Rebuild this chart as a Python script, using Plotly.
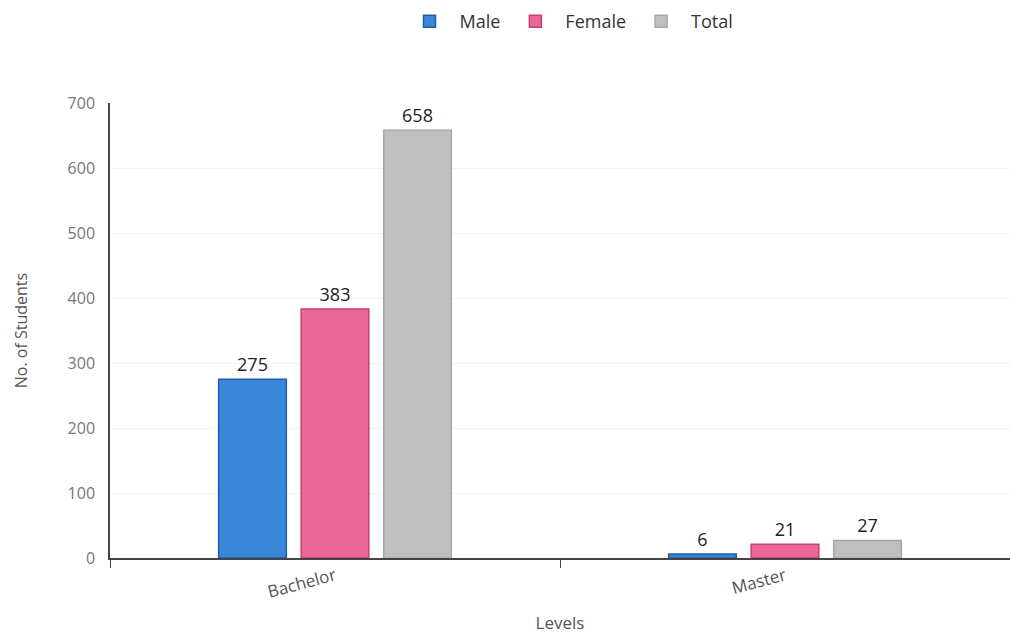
import plotly.graph_objects as go

levels = ["Bachelor", "Master"]
male = [275, 6]
female = [383, 21]
total = [658, 27]

series = [
    ("Male", male, "#3a86d8", "#1f5ea8"),
    ("Female", female, "#ea6797", "#c9406f"),
    ("Total", total, "#bfbfbf", "#a8a8a8"),
]

fig = go.Figure()
for name, vals, color, border in series:
    fig.add_trace(go.Bar(
        name=name, x=levels, y=vals,
        marker=dict(color=color, line=dict(color=border, width=1.5)),
        text=[str(v) for v in vals], textposition="outside",
        textfont=dict(size=18, color="#222222", family="Open Sans"),
        cliponaxis=False,
    ))

fig.update_layout(
    width=1010, height=634,
    margin=dict(l=110, r=0, t=103, b=76, autoexpand=False),
    paper_bgcolor="white", plot_bgcolor="white",
    font=dict(family="Open Sans", color="#555555"),
    barmode="group", bargap=0.45, bargroupgap=0.18,
    showlegend=True,
    legend=dict(orientation="h", x=0.51, xanchor="center", y=0.995, yanchor="top",
                yref="container", font=dict(size=18, color="#333333"),
                itemwidth=50, traceorder="normal"),
    xaxis=dict(
        title=dict(text="Levels", font=dict(size=17, color="#555555"), standoff=22),
        tickangle=-15, tickfont=dict(size=17, color="#555555"),
        showline=True, linecolor="#444444", linewidth=1.5,
        ticks="outside", tickson="boundaries", ticklen=8, tickcolor="#444444",
        showgrid=False, automargin=False,
    ),
    yaxis=dict(
        title=dict(text="No. of Students", font=dict(size=16, color="#555555"), standoff=36),
        range=[0, 700], dtick=100, tickfont=dict(size=16, color="#777777"),
        showline=True, linecolor="#444444", linewidth=1.5,
        gridcolor="#f4f4f4", zeroline=False, automargin=False,
        ticks="", ticklabelstandoff=10,
    ),
)

fig.write_html("out.html")
